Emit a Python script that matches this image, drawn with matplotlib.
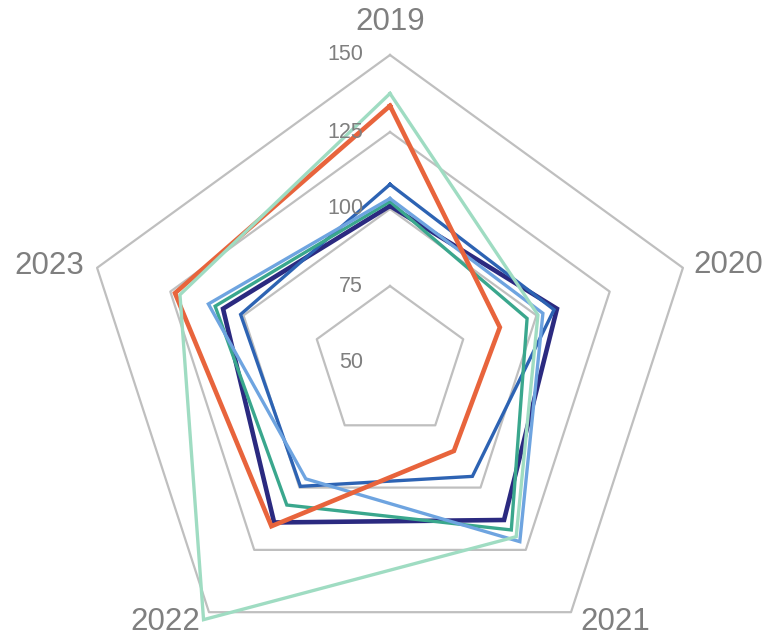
import numpy as np
import matplotlib
matplotlib.use("Agg")
import matplotlib.pyplot as plt

categories = ["2019", "2020", "2021", "2022", "2023"]
ring_values = [75, 100, 125, 150]
tick_labels = ["50", "75", "100", "125", "150"]
tick_values = [50, 75, 100, 125, 150]

navy = [101, 107, 113, 114, 107]
blue = [108, 106, 95.5, 99.5, 101]
orange = [133.5, 87.5, 85.3, 115.5, 123.4]
mint = [137.5, 100.5, 119.7, 153, 121.7]
teal = [102.4, 96.8, 117, 107, 109.7]
lightblue = [103.4, 102.2, 121.7, 96.5, 112]

series = [
    (navy, "#2B2A80", 3.3),
    (blue, "#2D63B3", 2.4),
    (teal, "#3AA78D", 2.4),
    (lightblue, "#6EA4E0", 2.4),
    (orange, "#E8643C", 3.3),
    (mint, "#9FDCC2", 2.4),
]

plt.rcParams['font.family'] = ['Liberation Sans', 'DejaVu Sans']
W, H = 770, 637
fig = plt.figure(figsize=(W / 100, H / 100), dpi=100)
cx, cy, R = 390, 363, 308
ax = fig.add_axes([(cx - R) / W, (H - cy - R) / H, 2 * R / W, 2 * R / H], projection="polar")
ax.set_theta_offset(np.pi / 2)
ax.set_theta_direction(-1)
ax.set_ylim(50, 150)
ax.grid(False)
ax.spines["polar"].set_visible(False)
ax.set_xticks([])
ax.set_yticks([])
ax.patch.set_alpha(0)

n = len(categories)
theta = np.linspace(0, 2 * np.pi, n, endpoint=False)
tc = np.concatenate([theta, theta[:1]])

grid_c = "#BFBFBF"
for rv in ring_values:
    ax.plot(tc, [rv] * (n + 1), color=grid_c, lw=1.6, clip_on=False, zorder=1)

for vals, col, lw in series:
    v = list(vals) + [vals[0]]
    ax.plot(tc, v, color=col, lw=lw, clip_on=False, zorder=3, solid_joinstyle="miter")

txt_c = "#7F7F7F"
for tv, tl in zip(tick_values, tick_labels):
    ax.annotate(tl, xy=(0, tv), xytext=(-27, 0), textcoords="offset pixels",
                ha="right", va="center", fontsize=15.5, color=txt_c, annotation_clip=False)

offsets = [((0, 33), "center"), ((10, 3), "left"), ((9, -10), "left"),
           ((-9, -10), "right"), ((-13, 2), "right")]
for th, cat, (off, ha) in zip(theta, categories, offsets):
    ax.annotate(cat, xy=(th, 150), xytext=off, textcoords="offset pixels",
                ha=ha, va="center", fontsize=22.5, color=txt_c, annotation_clip=False)

fig.savefig("out.png", dpi=100)
